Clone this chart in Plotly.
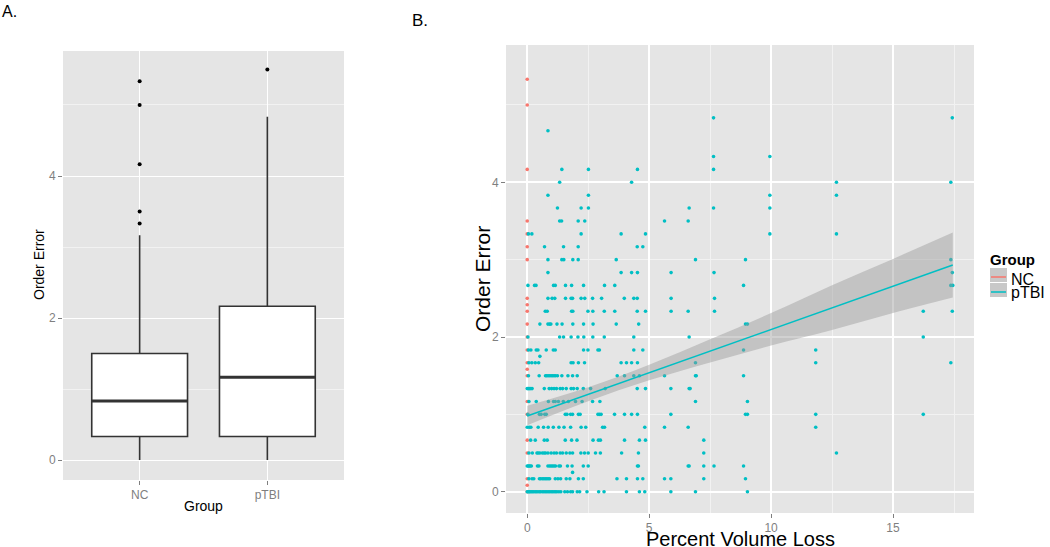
import plotly.graph_objects as go

# ---------------- Panel A: box plot summary ----------------
groups = ["NC", "pTBI"]
box_q1 = [0.333, 0.333]
box_median = [0.833, 1.167]
box_q3 = [1.5, 2.167]
box_lower = [0.0, 0.0]
box_upper = [3.167, 4.833]
nc_outliers = [3.333, 3.5, 4.167, 5.0, 5.333]
ptbi_outliers = [5.5]

# ---------------- Panel B: scatter data ----------------
nc_y = [0.0, 0.083, 0.167, 0.5, 0.667, 1.0, 1.167, 1.5, 1.583, 1.667, 1.833, 2.0,
        2.167, 2.333, 2.417, 2.5, 3.0, 3.167, 3.333, 3.5, 4.167, 5.0, 5.333]
nc_x = [0.0] * len(nc_y)

ptbi_levels = [0.0, 0.167, 0.25, 0.333, 0.5, 0.667, 0.833, 1.0, 1.167, 1.333, 1.5,
               1.667, 1.75, 1.833, 2.0, 2.167, 2.333, 2.5, 2.667, 2.833, 3.0, 3.167,
               3.333, 3.5, 3.667, 3.833, 4.0, 4.167, 4.333, 4.667, 4.833]
ptbi_x_by_level = [
    [0.0, 0.04, 0.08, 0.12, 0.17, 0.22, 0.27, 0.33, 0.38, 0.44, 0.50, 0.55, 0.62, 0.68, 0.74,
     0.80, 0.86, 0.92, 0.98, 1.04, 1.10, 1.16, 1.22, 1.30, 1.38, 1.54, 1.65, 1.78, 1.86, 2.05,
     2.15, 2.45, 2.93, 3.15, 4.07, 4.60, 4.82, 5.89, 6.90, 9.03],
    [0.07, 0.20, 0.27, 0.50, 0.55, 0.62, 0.68, 0.74, 0.80, 0.86, 0.92, 1.15, 1.26, 1.37, 1.60,
     1.75, 2.10, 2.30, 3.68, 4.07, 4.52, 4.74, 5.63, 5.89, 7.24, 8.95],
    [1.86],
    [0.0, 0.04, 0.08, 0.12, 0.17, 0.42, 0.48, 0.85, 0.92, 0.98, 1.04, 1.10, 1.16, 1.30, 1.36,
     1.65, 1.84, 2.30, 2.50, 4.52, 4.56, 6.60, 6.64, 7.24, 7.66, 8.87],
    [0.07, 0.21, 0.40, 0.45, 0.52, 0.62, 0.69, 0.75, 0.85, 0.98, 1.10, 1.20, 1.35, 1.45, 1.60,
     1.75, 1.86, 2.20, 2.35, 2.50, 2.80, 3.00, 3.87, 4.56, 7.24, 12.68],
    [0.14, 0.33, 0.70, 0.82, 1.56, 1.82, 2.04, 2.70, 2.92, 3.00, 3.99, 4.60, 4.85, 7.24],
    [0.0, 0.08, 0.15, 0.45, 0.67, 0.86, 1.07, 1.30, 1.51, 1.78, 2.21, 2.40, 3.09, 3.17, 4.82,
     5.63, 6.60, 11.83],
    [0.03, 0.50, 0.57, 0.72, 0.78, 1.56, 1.63, 1.78, 1.86, 2.10, 2.17, 2.90, 2.96, 3.03, 3.58,
     3.99, 4.28, 4.52, 5.89, 8.95, 9.03, 11.83, 16.24],
    [0.07, 0.37, 0.87, 1.08, 1.15, 1.28, 1.48, 1.69, 1.98, 2.25, 2.68, 2.98, 6.90, 9.03],
    [0.0, 0.05, 0.10, 0.15, 0.20, 0.70, 0.90, 1.00, 1.10, 1.20, 1.35, 1.45, 1.60, 1.80, 1.90,
     2.05, 2.30, 2.60, 3.20, 4.51, 4.85, 5.89, 6.64, 6.68],
    [0.05, 0.49, 0.75, 0.80, 0.86, 0.92, 0.98, 1.04, 1.10, 1.16, 1.24, 1.42, 1.67, 1.86, 2.05,
     3.69, 3.99, 4.37, 4.60, 5.63, 6.90, 6.93, 8.87],
    [0.07, 0.19, 0.33, 0.47, 1.80, 1.88, 2.10, 2.35, 3.85, 4.07, 4.28, 4.52, 6.90, 11.83, 17.37],
    [0.52],
    [0.05, 0.15, 0.37, 0.44, 0.78, 1.07, 1.15, 2.31, 2.49, 2.90, 2.96, 4.37, 4.74, 8.87, 11.83],
    [0.03, 1.33, 1.49, 1.80, 2.08, 2.32, 2.69, 3.16, 4.37, 6.64, 16.24],
    [0.52, 0.85, 0.92, 0.97, 1.22, 1.43, 1.87, 2.31, 2.70, 3.65, 4.57, 8.95, 9.03],
    [0.74, 0.82, 1.82, 1.87, 2.49, 2.69, 3.16, 3.59, 4.51, 4.85, 5.90, 6.60, 7.68, 16.24, 17.43],
    [0.85, 1.02, 1.13, 1.57, 1.80, 1.86, 2.21, 2.36, 2.68, 3.05, 3.98, 4.37, 4.51, 5.90, 7.68],
    [0.03, 0.30, 0.36, 1.08, 1.15, 1.57, 1.82, 2.31, 3.17, 3.59, 8.87, 17.37, 17.45],
    [0.85, 3.85, 4.28, 4.52, 5.90, 7.66, 17.43],
    [0.85, 1.42, 1.50, 1.87, 2.09, 3.65, 6.90, 8.95, 17.37],
    [0.71, 1.49, 2.09, 4.51, 4.74],
    [0.05, 0.19, 2.21, 3.85, 4.85, 9.95, 12.68],
    [1.33, 1.41, 2.09, 2.36, 5.63, 6.60],
    [1.24, 2.21, 2.51, 6.64, 7.64, 9.95],
    [0.85, 2.51, 9.95, 12.68],
    [1.33, 4.28, 12.68, 17.37],
    [1.42, 2.51, 4.52, 7.64],
    [7.64, 9.95],
    [0.85],
    [7.64, 17.43],
]

# linear fit (pTBI)
fit_x = [0.0, 2.5, 5.0, 7.5, 10.0, 12.5, 15.0, 17.45]
fit_y = [0.98, 1.26, 1.54, 1.82, 2.10, 2.38, 2.66, 2.93]
fit_lo = [0.86, 1.17, 1.44, 1.67, 1.89, 2.09, 2.31, 2.51]
fit_hi = [1.11, 1.35, 1.64, 1.97, 2.31, 2.67, 3.01, 3.35]

NC_COL = "#F8766D"
PT_COL = "#00BFC4"
PANEL = "#E5E5E5"
FONT = "Liberation Sans"
W, H = 1050, 547

ptbi_x, ptbi_y = [], []
for lvl, xs in zip(ptbi_levels, ptbi_x_by_level):
    ptbi_x.extend(xs)
    ptbi_y.extend([lvl] * len(xs))

pos = [i + 1 for i in range(len(groups))]
bw = 0.75

fig = go.Figure()

# Panel A
fig.add_trace(go.Box(
    x=pos, q1=box_q1, median=box_median, q3=box_q3,
    lowerfence=box_lower, upperfence=box_upper,
    width=bw, fillcolor="white", line=dict(color="#333333", width=1.6),
    whiskerwidth=0, boxpoints=False, showlegend=False, hoverinfo="skip",
    xaxis="x", yaxis="y"))
for p, m in zip(pos, box_median):
    fig.add_trace(go.Scatter(x=[p - bw / 2, p + bw / 2], y=[m, m], mode="lines",
                             line=dict(color="#333333", width=3), showlegend=False,
                             xaxis="x", yaxis="y"))
fig.add_trace(go.Scatter(
    x=[pos[0]] * len(nc_outliers) + [pos[1]] * len(ptbi_outliers),
    y=nc_outliers + ptbi_outliers, mode="markers",
    marker=dict(color="black", size=4), showlegend=False, xaxis="x", yaxis="y"))

# Panel B
fig.add_trace(go.Scatter(x=nc_x, y=nc_y, mode="markers",
                         marker=dict(color=NC_COL, size=3.6), showlegend=False,
                         xaxis="x2", yaxis="y2"))
fig.add_trace(go.Scatter(x=ptbi_x, y=ptbi_y, mode="markers",
                         marker=dict(color=PT_COL, size=3.6), showlegend=False,
                         xaxis="x2", yaxis="y2"))
fig.add_trace(go.Scatter(x=fit_x, y=fit_lo, mode="lines", line=dict(width=0, shape="spline"),
                         showlegend=False, xaxis="x2", yaxis="y2"))
fig.add_trace(go.Scatter(x=fit_x, y=fit_hi, mode="lines", line=dict(width=0, shape="spline"),
                         fill="tonexty", fillcolor="rgba(153,153,153,0.45)",
                         showlegend=False, xaxis="x2", yaxis="y2"))
fig.add_trace(go.Scatter(x=fit_x, y=fit_y, mode="lines", line=dict(color=PT_COL, width=1.5),
                         showlegend=False, xaxis="x2", yaxis="y2"))

def py(p):
    return 1 - p / H

def px(p):
    return p / W

tick_font = dict(family=FONT, size=12, color="#7F7F7F")
common = dict(showline=False, zeroline=False, ticks="outside", ticklen=4,
              tickcolor="#7F7F7F", tickwidth=1, tickfont=tick_font,
              gridcolor="white", fixedrange=True)

fig.update_layout(
    width=W, height=H, margin=dict(l=0, r=0, t=0, b=0),
    paper_bgcolor="white", plot_bgcolor=PANEL, showlegend=False,
    font=dict(family=FONT),
    xaxis=dict(domain=[px(63), px(344)], range=[0.4, 2.6], tickvals=pos, ticktext=groups,
               gridwidth=1.3, anchor="y", **common),
    yaxis=dict(domain=[py(480), py(51)], range=[-0.28, 5.76], tickvals=[0, 2, 4],
               gridwidth=1.3, anchor="x",
               minor=dict(tickvals=[1, 3, 5], showgrid=True, gridcolor="#F2F2F2",
                          gridwidth=0.8, ticks=""), **common),
    xaxis2=dict(domain=[px(506), px(974)], range=[-0.87, 18.32], tickvals=[0, 5, 10, 15],
                gridwidth=2, anchor="y2",
                minor=dict(tickvals=[2.5, 7.5, 12.5, 17.5], showgrid=True,
                           gridcolor="#F2F2F2", gridwidth=1, ticks=""), **common),
    yaxis2=dict(domain=[py(513), py(45)], range=[-0.275, 5.775], tickvals=[0, 2, 4],
                gridwidth=2, anchor="x2",
                minor=dict(tickvals=[1, 3, 5], showgrid=True, gridcolor="#F2F2F2",
                           gridwidth=1, ticks=""), **common),
)

ann = [
    dict(text="A.", x=px(0), y=py(12), xanchor="left", font=dict(size=16)),
    dict(text="B.", x=px(410), y=py(20), xanchor="left", font=dict(size=17)),
    dict(text="Order Error", x=px(39), y=py(265), textangle=-90, font=dict(size=14)),
    dict(text="Group", x=px(203), y=py(506), font=dict(size=14)),
    dict(text="Order Error", x=px(482), y=py(279), textangle=-90, font=dict(size=21)),
    dict(text="Percent Volume Loss", x=px(740), y=py(539), font=dict(size=20)),
    dict(text="<b>Group</b>", x=px(988), y=py(259), xanchor="left", font=dict(size=15)),
    dict(text="NC", x=px(1009), y=py(279), xanchor="left", font=dict(size=16)),
    dict(text="pTBI", x=px(1009), y=py(292), xanchor="left", font=dict(size=16)),
]
for a in ann:
    a.setdefault("xanchor", "center")
    fig.add_annotation(xref="paper", yref="paper", showarrow=False, yanchor="middle",
                       font=dict(family=FONT, color="black", size=a.pop("font")["size"]), **a)

# manual legend keys
shapes = []
for top, col in [(268, NC_COL), (283, PT_COL)]:
    shapes.append(dict(type="rect", xref="paper", yref="paper", x0=px(990), x1=px(1007),
                       y0=py(top + 14), y1=py(top), fillcolor="#C8C8C8", line=dict(width=0)))
    mid = top + 9
    shapes.append(dict(type="line", xref="paper", yref="paper", x0=px(991), x1=px(1006),
                       y0=py(mid), y1=py(mid), line=dict(color=col, width=1.5)))
fig.update_layout(shapes=shapes)

fig.write_html("out.html", config={"displayModeBar": False},
               post_script="document.body.style.margin='0';document.body.style.padding='0';")
